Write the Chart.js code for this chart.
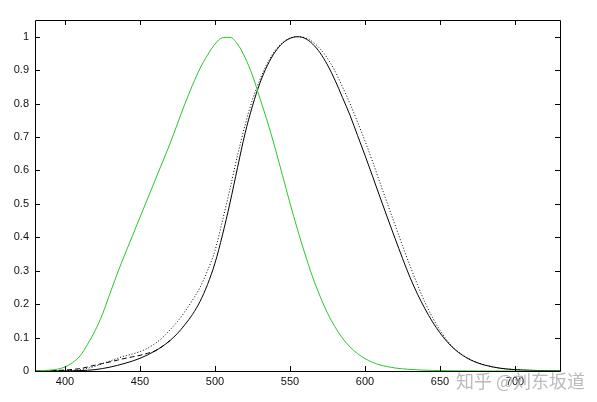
<!DOCTYPE html>
<html lang="en">
<head>
  <meta charset="UTF-8" />
  <title>Luminous efficiency</title>
  <script src="https://cdn.jsdelivr.net/npm/chart.js"></script>
  <style>
    body { margin: 0; background: #fff; }
    #wrap { position: relative; width: 597px; height: 402px; }
    #mark {
      position: absolute; left: 456px; top: 371px;
      font: 18px "Noto Sans CJK SC", sans-serif; line-height: 18px;
      color: rgba(175, 175, 175, 0.85); white-space: nowrap;
    }
  </style>
</head>
<body>
  <div id="wrap">
    <canvas id="lumChart" width="597" height="402"></canvas>
    <div id="mark">知乎 @刘东坂道</div>
  </div>

  <script>
    // wavelengths 380..730 nm every 5 nm
    const wavelengths = [];
    for (let w = 380; w <= 730; w += 5) wavelengths.push(w);

    // photopic V(lambda), solid black
    const photopic = [
      0.000039, 0.000064, 0.00012, 0.000217, 0.000396, 0.00064, 0.00121, 0.00218, 0.004, 0.0073,
      0.0116, 0.01684, 0.023, 0.0298, 0.038, 0.048, 0.06, 0.0739, 0.091, 0.1126,
      0.139, 0.1693, 0.208, 0.2586, 0.323, 0.4073, 0.503, 0.6082, 0.71, 0.7932,
      0.862, 0.9149, 0.954, 0.9803, 0.995, 1.0, 0.995, 0.9786, 0.952, 0.9154,
      0.87, 0.818, 0.765, 0.705, 0.645, 0.583, 0.52, 0.458, 0.397, 0.337,
      0.28, 0.23, 0.186, 0.147, 0.114, 0.086, 0.064, 0.047, 0.034, 0.0245,
      0.0175, 0.0122, 0.0084, 0.0058, 0.0041, 0.0029, 0.0021, 0.0015, 0.001, 0.0007,
      0.0005
    ];

    // scotopic V'(lambda), green
    const scotopic = [
      0.0006, 0.0012, 0.0025, 0.0055, 0.012, 0.025, 0.045, 0.08, 0.12, 0.17,
      0.232, 0.293, 0.35, 0.405, 0.46, 0.515, 0.57, 0.625, 0.68, 0.74,
      0.8, 0.855, 0.905, 0.945, 0.978, 0.997, 0.998, 0.978, 0.938, 0.884,
      0.815, 0.745, 0.668, 0.585, 0.502, 0.423, 0.35, 0.282, 0.224, 0.173,
      0.132, 0.098, 0.072, 0.052, 0.037, 0.026, 0.018, 0.013, 0.009, 0.0065,
      0.0048, 0.0035, 0.0025, 0.0018, 0.0013, 0.0009, 0.0006, 0.0004, 0.0003, 0.0002,
      0.00015, 0.0001, 0.00007, 0.00005, 0.00004, 0.00003, 0.00002, 0.00002, 0.00001, 0.00001,
      0.00001
    ];

    // Judd-Vos correction, dashed (380..470 only, merges with V afterwards)
    const juddWavelengths = [380, 385, 390, 395, 400, 405, 410, 415, 420, 425, 430, 435, 440, 445, 450, 455, 460, 465, 470];
    const juddVos = [
      0.0002, 0.0004, 0.0008, 0.0015, 0.0028, 0.0047, 0.007, 0.0118, 0.0175, 0.0224,
      0.0273, 0.0326, 0.0379, 0.0424, 0.0468, 0.053, 0.06, 0.0739, 0.091
    ];

    // broader luminosity function, dotted
    const dotted = [
      0, 0.0001, 0.0002, 0.0004, 0.0008, 0.0016, 0.0035, 0.008, 0.014, 0.022,
      0.03, 0.038, 0.045, 0.051, 0.058, 0.068, 0.082, 0.1, 0.123, 0.148,
      0.178, 0.212, 0.25, 0.3, 0.36, 0.45, 0.545, 0.645, 0.735, 0.812,
      0.872, 0.922, 0.958, 0.982, 0.996, 1.0, 0.997, 0.985, 0.964, 0.935,
      0.897, 0.85, 0.8, 0.745, 0.688, 0.627, 0.563, 0.5, 0.437, 0.375,
      0.315, 0.258, 0.205, 0.16, 0.122, 0.09, 0.066, 0.048, 0.035, 0.025,
      0.0178, 0.0123, 0.0085, 0.0058, 0.0041, 0.0029, 0.0021, 0.0015, 0.001, 0.0007,
      0.0005
    ];

    const xTicks = [400, 450, 500, 550, 600, 650, 700];
    const yTicks = [0, 0.1, 0.2, 0.3, 0.4, 0.5, 0.6, 0.7, 0.8, 0.9, 1];

    const pts = (xs, ys) => xs.map((x, i) => ({ x: x, y: ys[i] }));

    // MATLAB style box with inward ticks on all four sides
    const boxTicks = {
      id: 'boxTicks',
      afterDatasetsDraw(chart) {
        const { ctx, chartArea: a, scales } = chart;
        const len = 5;
        ctx.save();
        ctx.strokeStyle = '#000';
        ctx.lineWidth = 1;
        ctx.beginPath();
        ctx.rect(Math.round(a.left) + 0.5, Math.round(a.top) + 0.5,
                 Math.round(a.right - a.left), Math.round(a.bottom - a.top));
        xTicks.forEach(v => {
          const px = Math.round(scales.x.getPixelForValue(v)) + 0.5;
          ctx.moveTo(px, a.bottom); ctx.lineTo(px, a.bottom - len);
          ctx.moveTo(px, a.top); ctx.lineTo(px, a.top + len);
        });
        yTicks.forEach(v => {
          const py = Math.round(scales.y.getPixelForValue(v)) + 0.5;
          ctx.moveTo(a.left, py); ctx.lineTo(a.left + len, py);
          ctx.moveTo(a.right, py); ctx.lineTo(a.right - len, py);
        });
        ctx.stroke();
        ctx.restore();
      }
    };

    const font = { family: '"Liberation Sans", Arial, sans-serif', size: 11 };

    new Chart(document.getElementById('lumChart').getContext('2d'), {
      type: 'line',
      data: {
        datasets: [
          { data: pts(wavelengths, scotopic), borderColor: 'rgb(40, 200, 40)' },
          { data: pts(wavelengths, dotted), borderColor: '#000', borderDash: [1, 2] },
          { data: pts(juddWavelengths, juddVos), borderColor: '#000', borderDash: [5, 3] },
          { data: pts(wavelengths, photopic), borderColor: '#000' }
        ]
      },
      options: {
        responsive: false,
        animation: false,
        elements: {
          point: { radius: 0 },
          line: { borderWidth: 1, cubicInterpolationMode: 'monotone', fill: false }
        },
        layout: { padding: { top: 20, right: 37, left: 0, bottom: 0 } },
        plugins: { legend: { display: false }, tooltip: { enabled: false } },
        scales: {
          x: {
            type: 'linear', min: 380, max: 730,
            grid: { display: false, drawTicks: false },
            border: { display: false },
            afterBuildTicks: s => { s.ticks = xTicks.map(v => ({ value: v })); },
            afterFit: s => { s.height = 31; },
            ticks: { color: '#111', font: font, padding: 4, maxRotation: 0, autoSkip: false }
          },
          y: {
            type: 'linear', min: 0, max: 1.05,
            grid: { display: false, drawTicks: false },
            border: { display: false },
            afterBuildTicks: s => { s.ticks = yTicks.map(v => ({ value: v })); },
            afterFit: s => { s.width = 35; },
            ticks: { color: '#111', font: font, padding: 6, callback: v => String(v) }
          }
        }
      },
      plugins: [boxTicks]
    });
  </script>
</body>
</html>
